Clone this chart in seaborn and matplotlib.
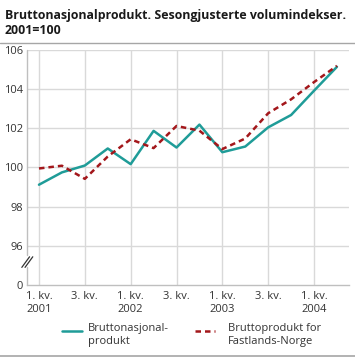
import numpy as np
import pandas as pd
import matplotlib
matplotlib.use("Agg")
import matplotlib.pyplot as plt
import seaborn as sns

# Quarterly volume indices, 2001=100 (2001Q1 - 2004Q2)
quarters = ["2001K1", "2001K2", "2001K3", "2001K4",
            "2002K1", "2002K2", "2002K3", "2002K4",
            "2003K1", "2003K2", "2003K3", "2003K4",
            "2004K1", "2004K2"]
bnp = [99.12, 99.75, 100.10, 100.97, 100.17, 101.87, 101.02,
       102.19, 100.78, 101.07, 102.05, 102.68, 103.92, 105.14]
fastland = [99.95, 100.09, 99.42, 100.56, 101.44, 100.99, 102.12,
            101.88, 100.94, 101.48, 102.77, 103.48, 104.36, 105.19]
series_names = ["Bruttonasjonal-\nprodukt", "Bruttoprodukt for\nFastlands-Norge"]
xtick_labels = ["1. kv.\n2001", "3. kv.", "1. kv.\n2002", "3. kv.",
                "1. kv.\n2003", "3. kv.", "1. kv.\n2004"]
ytick_values = [94, 96, 98, 100, 102, 104, 106]   # 94 stands for the broken 0
ytick_labels = ["0", "96", "98", "100", "102", "104", "106"]

df = pd.DataFrame({
    "q": list(range(len(quarters))) * 2,
    "value": bnp + fastland,
    "series": [series_names[0]] * len(quarters) + [series_names[1]] * len(quarters),
})

sns.set_style("white")
plt.rcParams["font.family"] = ["Open Sans", "DejaVu Sans"]

fig = plt.figure(figsize=(3.55, 3.57), dpi=100)
ax = fig.add_axes([0.076, 0.2017, 0.907, 0.6583])

grid_c = "#d9d9d9"
colors = {series_names[0]: "#1f9c98", series_names[1]: "#a3171b"}
dash = (2.2, 1.6)

sns.lineplot(data=df, x="q", y="value", hue="series", style="series",
             palette=colors, dashes={series_names[0]: "", series_names[1]: dash},
             linewidth=1.8, ax=ax, legend=False, zorder=3)

ax.set_xlim(-0.524, 13.524)
ax.set_ylim(94, 106)
ax.set_yticks(ytick_values)
ax.set_yticklabels(ytick_labels)
ax.set_xticks(range(0, len(quarters), 2))
ax.set_xticklabels(xtick_labels, ha="center", va="top", linespacing=1.3)
ax.set_xticks(range(1, len(quarters), 2), minor=True)
ax.set_xlabel("")
ax.set_ylabel("")

# grid
for yv in ytick_values[1:]:
    ax.axhline(yv, color=grid_c, lw=1, zorder=1)
for xv in range(0, len(quarters), 2):
    ax.axvline(xv, color=grid_c, lw=1, zorder=1)

ax.tick_params(axis="x", which="major", length=0, pad=4, labelsize=8, labelcolor="#333333")
ax.tick_params(axis="x", which="minor", direction="in", length=5, color=grid_c, width=1)
ax.tick_params(axis="y", length=0, pad=3, labelsize=8, labelcolor="#333333")

for s in ["top", "right", "left"]:
    ax.spines[s].set_visible(False)
ax.spines["bottom"].set_color("#bfbfbf")
ax.spines["bottom"].set_linewidth(1)

# left spine with axis break
ax.plot([0, 0], [0, 0.077], transform=ax.transAxes, color="#bfbfbf", lw=1, clip_on=False)
ax.plot([0, 0], [0.128, 1], transform=ax.transAxes, color="#bfbfbf", lw=1, clip_on=False)
for dx in (-0.004, 0.006):
    ax.plot([dx - 0.012, dx + 0.012], [0.075, 0.12], transform=ax.transAxes,
            color="#333333", lw=0.9, clip_on=False)

# title and separator lines
fig.text(0.014, 0.975, "Bruttonasjonalprodukt. Sesongjusterte volumindekser.\n2001=100",
         ha="left", va="top", fontsize=8.95, fontweight="bold", color="#1a1a1a",
         linespacing=1.2)
fig.add_artist(plt.Line2D([0, 1], [0.879, 0.879], color="#a6a6a6", lw=1))
fig.add_artist(plt.Line2D([0, 1], [0.004, 0.004], color="#a6a6a6", lw=1.2))

# legend: handle level with the first text line
fig.add_artist(plt.Line2D([0.1746, 0.231], [0.073, 0.073], color=colors[series_names[0]], lw=1.8))
fig.add_artist(plt.Line2D([0.549, 0.606], [0.073, 0.073], color=colors[series_names[1]],
                          lw=1.8, dashes=dash))
for xt, lab in zip([0.248, 0.642], series_names):
    fig.text(xt, 0.0955, lab, ha="left", va="top", fontsize=8, color="#333333",
             linespacing=1.3)

fig.savefig("out.png", dpi=100)
